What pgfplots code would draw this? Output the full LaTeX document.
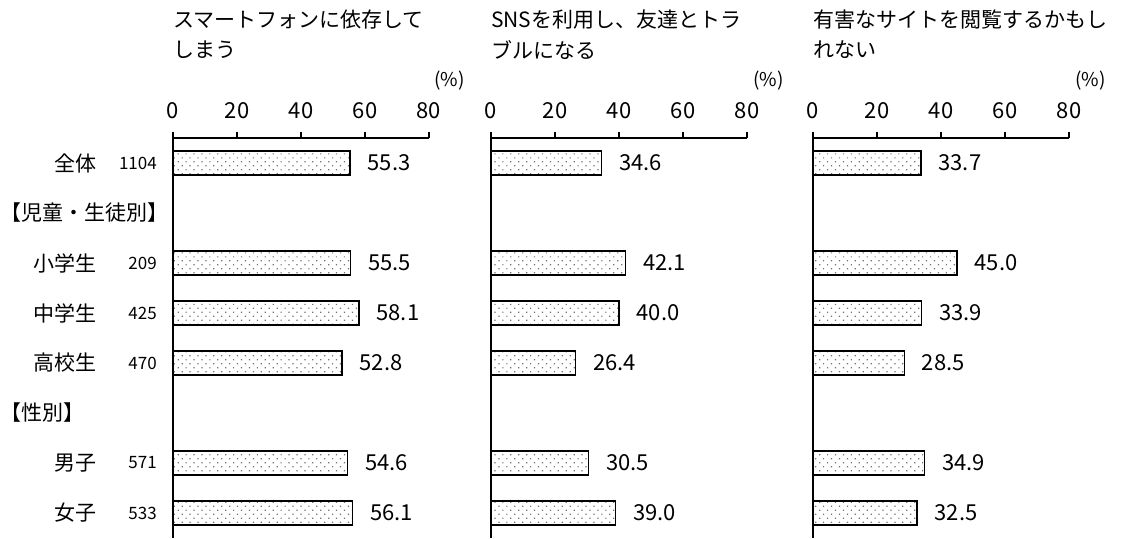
\documentclass[border=0pt]{standalone}
\usepackage{fontspec}
\setmainfont{Noto Sans CJK JP}
\usepackage{pgfplots}
\usepackage{pgfplotstable}
\pgfplotsset{compat=1.18}
\usetikzlibrary{patterns.meta}

\pgfplotstableread{
row v1 v2 v3
0 55.3 34.6 33.7
2 55.5 42.1 45.0
3 58.1 40.0 33.9
4 52.8 26.4 28.5
6 54.6 30.5 34.9
7 56.1 39.0 32.5
}\datatable

\pgfplotsset{
 panel/.style={
  scale only axis, width=256pt, height=400pt,
  xmin=0, xmax=80, ymin=-0.5, ymax=7.5, y dir=reverse,
  axis x line*=top, axis y line*=left,
  xtick={0,20,40,60,80}, ytick=\empty,
  tick align=outside, major tick length=6pt,
  axis line style={line width=1.3pt, -},
  every tick/.style={line width=1.3pt, black},
  xticklabel style={font=\fontsize{22}{22}\selectfont, inner sep=0pt, yshift=13pt},
  /pgf/number format/assume math mode=true,
  clip=false,
  xbar, bar width=24pt,
  nodes near coords={\pgfmathprintnumber[fixed,fixed zerofill,precision=1,assume math mode=true]{\pgfplotspointmeta}},
  nodes near coords style={anchor=west, font=\fontsize{22}{22}\selectfont, inner sep=0pt, xshift=17pt},
 },
 barstyle/.style={draw=black, line width=1.3pt, fill=white,
  postaction={pattern={Dots[angle=45,distance=5.6pt,radius=0.85pt]}, pattern color=black!55}},
}

\begin{document}
\begin{tikzpicture}
\useasboundingbox (0pt,0pt) rectangle (1121pt,-538pt);

\begin{axis}[panel, at={(173pt,-138pt)}, anchor=north west]
\addplot[barstyle] table[x=v1, y=row]{\datatable};
\end{axis}
\begin{axis}[panel, at={(491pt,-138pt)}, anchor=north west]
\addplot[barstyle] table[x=v2, y=row]{\datatable};
\end{axis}
\begin{axis}[panel, at={(813pt,-138pt)}, anchor=north west]
\addplot[barstyle] table[x=v3, y=row]{\datatable};
\end{axis}

% titles
\begin{scope}[every node/.style={anchor=west, inner sep=0pt, font=\fontsize{21}{21}\selectfont}]
\node at (173pt,-20pt) {スマートフォンに依存して};
\node at (173pt,-50pt) {しまう};
\node at (491pt,-20pt) {SNSを利用し、友達とトラ};
\node at (491pt,-50pt) {ブルになる};
\node at (813pt,-20pt) {有害なサイトを閲覧するかもし};
\node at (813pt,-50pt) {れない};
\end{scope}
\begin{scope}[every node/.style={anchor=east, inner sep=0pt, font=\fontsize{19}{19}\selectfont}]
\node at (465pt,-81pt) {(\%)};
\node at (784pt,-81pt) {(\%)};
\node at (1106pt,-81pt) {(\%)};
\end{scope}

% row labels
\begin{scope}[every node/.style={anchor=east, inner sep=0pt, font=\fontsize{21}{21}\selectfont}]
\node at (97pt,-163pt) {全体};
\node at (97pt,-263pt) {小学生};
\node at (97pt,-313pt) {中学生};
\node at (97pt,-363pt) {高校生};
\node at (97pt,-463pt) {男子};
\node at (97pt,-513pt) {女子};
\end{scope}
\begin{scope}[every node/.style={anchor=east, inner sep=0pt, font=\fontsize{17}{17}\selectfont}]
\node at (157pt,-163pt) {1104};
\node at (157pt,-263pt) {209};
\node at (157pt,-313pt) {425};
\node at (157pt,-363pt) {470};
\node at (157pt,-463pt) {571};
\node at (157pt,-513pt) {533};
\end{scope}
\begin{scope}[every node/.style={anchor=west, inner sep=0pt, font=\fontsize{21}{21}\selectfont}]
\node at (0pt,-213pt) {【児童・生徒別】};
\node at (0pt,-413pt) {【性別】};
\end{scope}
\end{tikzpicture}
\end{document}
